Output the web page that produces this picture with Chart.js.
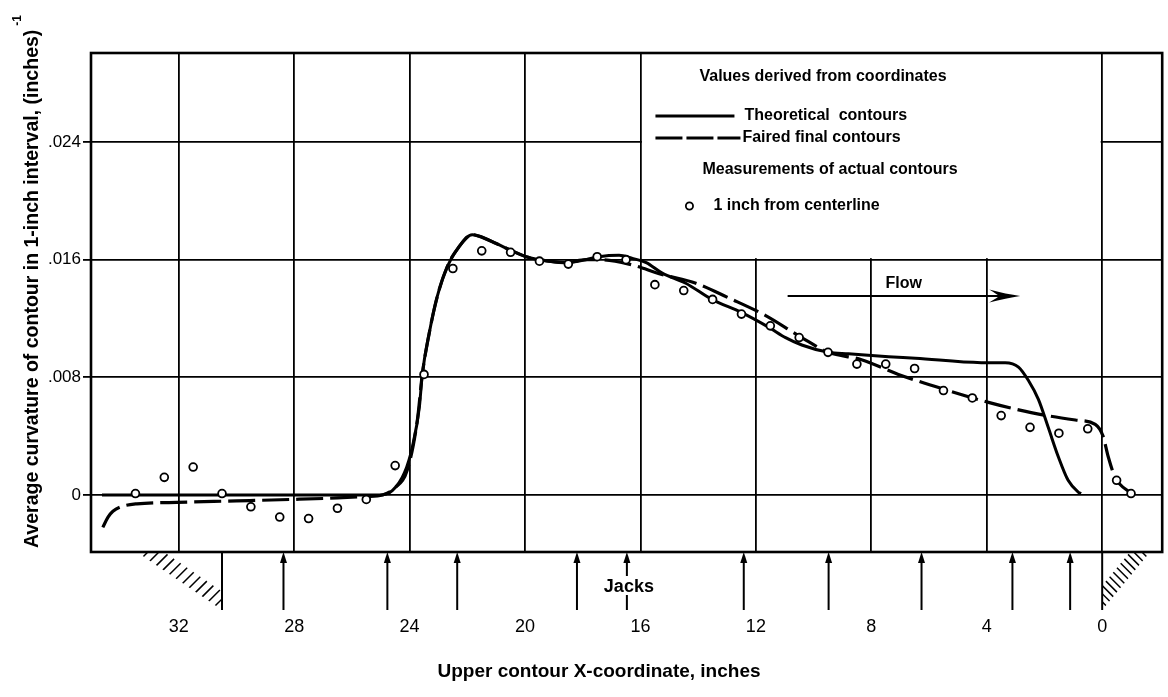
<!DOCTYPE html>
<html>
<head>
<meta charset="utf-8">
<title>Average curvature of contour</title>
<script src="https://cdn.jsdelivr.net/npm/chart.js@4.4.1/dist/chart.umd.min.js"></script>
<style>
  html, body { margin: 0; padding: 0; background: #fff; }
  canvas { display: block; }
</style>
</head>
<body>
<canvas id="curvatureChart" width="1168" height="697"></canvas>
<script>
// curvature chart - upper contour, values vs X-coordinate (axis runs right to left)

// axis ticks
const xTickValues = [32, 28, 24, 20, 16, 12, 8, 4, 0];
const xTickLabels = ['32', '28', '24', '20', '16', '12', '8', '4', '0'];
const yTickValues = [0, 0.008, 0.016, 0.024];
const yTickLabels = ['0', '.008', '.016', '.024'];

// measurements of actual contours, 1 inch from centerline
const measuredX = [33.5, 32.5, 31.5, 30.5, 29.5, 28.5, 27.5, 26.5, 25.5, 24.5, 23.5, 22.5,
  21.5, 20.5, 19.5, 18.5, 17.5, 16.5, 15.5, 14.5, 13.5, 12.5, 11.5, 10.5,
  9.5, 8.5, 7.5, 6.5, 5.5, 4.5, 3.5, 2.5, 1.5, 0.5, -0.5, -1.0];
const measuredY = [0.0001, 0.0012, 0.0019, 0.0001, -0.0008, -0.0015, -0.0016, -0.0009, -0.0003, 0.0020, 0.0082, 0.0154,
  0.0166, 0.0165, 0.0159, 0.0157, 0.0162, 0.0160, 0.0143, 0.0139, 0.0133, 0.0123, 0.0115, 0.0107,
  0.0097, 0.0089, 0.0089, 0.0086, 0.0071, 0.0066, 0.0054, 0.0046, 0.0042, 0.0045, 0.0010, 0.0001];

// theoretical contours (solid)
const theoX = [34.66, 30, 26, 25.05, 24.6, 24.18, 23.9, 23.66, 23.56, 23.32, 23.04, 22.7,
  22.28, 21.83, 21.6, 21.0, 20.45, 19.96, 19.51, 18.58, 17.89, 17.44, 16.74, 16.3,
  15.8, 15.26, 14.43, 13.53, 12.49, 11.55, 10.97, 10.41, 9.48, 8.79, 7.4, 6.47,
  4.19, 3.36, 2.9, 2.56, 2.21, 1.87, 1.52, 1.18, 0.83, 0.73];
const theoY = [0, 0, 0, 0, 0.0003, 0.0015, 0.0033, 0.0060, 0.0082, 0.0110, 0.0135, 0.0155,
  0.0169, 0.0177, 0.0176, 0.0171, 0.0166, 0.0162, 0.0160, 0.0158, 0.0160, 0.0162, 0.0163, 0.0161,
  0.0158, 0.0151, 0.0144, 0.0133, 0.0124, 0.0114, 0.0107, 0.0102, 0.0097, 0.0096, 0.0094, 0.0093,
  0.0090, 0.0090, 0.0087, 0.0078, 0.0065, 0.0046, 0.0026, 0.0010, 0.0002, 0.0001];

// faired final contours (dashed)
const fairX = [34.63, 34.45, 34.28, 34.0, 33.45, 32.07, 30.0, 28.06, 26.5, 25.5, 24.94, 24.5,
  24.08, 23.73, 23.56, 23.32, 23.04, 22.7, 22.28, 21.83, 21.6, 21.0, 20.45, 19.96,
  19.51, 18.58, 17.89, 17.44, 16.4, 15.26, 14.08, 12.94, 11.66, 10.41, 9.48, 8.34,
  7.06, 5.33, 3.94, 2.46, 0.93, 0.24, -0.03, -0.21, -0.45, -1.0];
const fairY = [-0.0022, -0.0015, -0.0011, -0.0008, -0.0006, -0.0005, -0.0004, -0.0003, -0.0002, -0.0001, 0.0000, 0.0005,
  0.0017, 0.0051, 0.0082, 0.0110, 0.0135, 0.0155, 0.0169, 0.0177, 0.0176, 0.0171, 0.0166, 0.0162,
  0.0160, 0.0158, 0.0160, 0.0160, 0.0157, 0.0150, 0.0144, 0.0134, 0.0122, 0.0107, 0.0097, 0.0092,
  0.0082, 0.0071, 0.0063, 0.0056, 0.0051, 0.0048, 0.0040, 0.0026, 0.0012, 0.0001];

// jacks under the plate, inches
const jackX = [28.37, 24.77, 22.35, 18.2, 16.47, 12.42, 9.48, 6.26, 3.11, 1.11];
const jackLabelIndex = 4;

// end walls (hatched) and how far the hatching reaches
const wallX = [30.5, 0];
const wallOuterX = [33.45, -1.66];

// flow arrow
const flowFromX = 10.9, flowToX = 2.84, flowY = 0.01353;
const flowLabelX = 6.88, flowLabelY = 0.0144;

// key block sits in the grid cell from x = 16 to 0, above .016
const keyFromX = 16, keyToX = 0, keyFromY = 0.016;

const FONT = "'Liberation Sans', Arial, sans-serif";

function toPoints(xs, ys) {
  return xs.map((x, i) => ({ x: x, y: ys[i] }));
}

function arrowUp(ctx, px, top, bottom, gapFrom, gapTo) {
  ctx.beginPath();
  if (gapFrom) {
    ctx.moveTo(px, top + 8); ctx.lineTo(px, gapFrom);
    ctx.moveTo(px, gapTo); ctx.lineTo(px, bottom);
  } else {
    ctx.moveTo(px, top + 8); ctx.lineTo(px, bottom);
  }
  ctx.stroke();
  ctx.beginPath();
  ctx.moveTo(px, top);
  ctx.lineTo(px - 3.5, top + 11);
  ctx.lineTo(px + 3.5, top + 11);
  ctx.closePath();
  ctx.fill();
}

function drawWall(ctx, xWall, xOuter, top, bottom) {
  ctx.beginPath();
  ctx.moveTo(xWall, top);
  ctx.lineTo(xWall, bottom);
  ctx.stroke();

  const dir = xOuter < xWall ? 1 : -1;
  ctx.save();
  ctx.beginPath();
  ctx.moveTo(xOuter, top);
  ctx.lineTo(xWall, top);
  ctx.lineTo(xWall, bottom);
  ctx.closePath();
  ctx.clip();
  ctx.lineWidth = 1.5;
  const n = 13;
  for (let i = 0; i <= n; i++) {
    const t = i / n;
    const hx = xOuter + (xWall - xOuter) * t;
    const hy = top + (bottom - top) * t;
    ctx.beginPath();
    ctx.moveTo(hx - dir * 2, hy + 2);
    ctx.lineTo(hx + dir * 11, hy - 11);
    ctx.stroke();
  }
  ctx.restore();
}

const decorPlugin = {
  id: 'decor',
  beforeDatasetsDraw(chart) {
    const { ctx, chartArea: a, scales: { x, y } } = chart;
    // blank the grid behind the key
    const l = x.getPixelForValue(keyFromX), r = x.getPixelForValue(keyToX);
    const b = y.getPixelForValue(keyFromY);
    ctx.save();
    ctx.fillStyle = '#fff';
    ctx.fillRect(l + 1.5, a.top, r - l - 3, b - a.top - 1.5);
    ctx.restore();
  },
  afterDatasetsDraw(chart) {
    const { ctx, chartArea: a } = chart;
    ctx.save();
    ctx.strokeStyle = '#000';
    ctx.lineWidth = 2.6;
    ctx.strokeRect(a.left, a.top, a.right - a.left, a.bottom - a.top);
    ctx.restore();
  },
  afterDraw(chart) {
    const { ctx, chartArea: a, scales: { x, y } } = chart;
    ctx.save();
    ctx.fillStyle = '#000';
    ctx.strokeStyle = '#000';

    // key
    const kl = x.getPixelForValue(keyFromX), kt = a.top;
    ctx.font = `bold 16px ${FONT}`;
    ctx.textAlign = 'left';
    ctx.textBaseline = 'middle';
    ctx.fillText('Values derived from coordinates', kl + 59, kt + 24);
    ctx.lineWidth = 3;
    ctx.beginPath();
    ctx.moveTo(kl + 15, kt + 63); ctx.lineTo(kl + 94, kt + 63);
    ctx.stroke();
    ctx.fillText('Theoretical  contours', kl + 104, kt + 63);
    ctx.setLineDash([27, 4]);
    ctx.beginPath();
    ctx.moveTo(kl + 15, kt + 85); ctx.lineTo(kl + 100, kt + 85);
    ctx.stroke();
    ctx.setLineDash([]);
    ctx.fillText('Faired final contours', kl + 102, kt + 85);
    ctx.fillText('Measurements of actual contours', kl + 62, kt + 117);
    ctx.lineWidth = 1.8;
    ctx.beginPath();
    ctx.arc(kl + 49, kt + 153, 3.6, 0, Math.PI * 2);
    ctx.stroke();
    ctx.fillText('1 inch from centerline', kl + 73, kt + 153);

    // flow arrow
    const fx0 = x.getPixelForValue(flowFromX), fx1 = x.getPixelForValue(flowToX);
    const fy = y.getPixelForValue(flowY);
    ctx.lineWidth = 1.8;
    ctx.beginPath();
    ctx.moveTo(fx0, fy); ctx.lineTo(fx1 - 10, fy);
    ctx.stroke();
    ctx.beginPath();
    ctx.moveTo(fx1, fy);
    ctx.quadraticCurveTo(fx1 - 14, fy - 2, fx1 - 31, fy - 6.5);
    ctx.quadraticCurveTo(fx1 - 22, fy - 1, fx1 - 21, fy);
    ctx.quadraticCurveTo(fx1 - 22, fy + 1, fx1 - 31, fy + 6.5);
    ctx.quadraticCurveTo(fx1 - 14, fy + 2, fx1, fy);
    ctx.fill();
    ctx.font = `bold 16px ${FONT}`;
    ctx.textAlign = 'center';
    ctx.fillText('Flow', x.getPixelForValue(flowLabelX), y.getPixelForValue(flowLabelY));

    // jacks
    const top = a.bottom, bottom = a.bottom + 58;
    ctx.lineWidth = 2;
    jackX.forEach((jx, i) => {
      const px = x.getPixelForValue(jx);
      if (i === jackLabelIndex) {
        arrowUp(ctx, px, top, bottom, top + 24, top + 43);
        ctx.font = `bold 18px ${FONT}`;
        ctx.textAlign = 'center';
        ctx.fillText('Jacks', px + 2, top + 35);
      } else {
        arrowUp(ctx, px, top, bottom);
      }
    });

    // walls
    ctx.lineWidth = 2;
    wallX.forEach((wx, i) => {
      drawWall(ctx, x.getPixelForValue(wx), x.getPixelForValue(wallOuterX[i]), top, bottom);
    });

    // x axis title
    ctx.font = `bold 19px ${FONT}`;
    ctx.textAlign = 'center';
    ctx.textBaseline = 'middle';
    ctx.fillText('Upper contour X-coordinate, inches', 599, 672);

    // y axis title with superscript
    const yTitle = 'Average curvature of contour in 1-inch interval, (inches)';
    ctx.translate(33, 548);
    ctx.rotate(-Math.PI / 2);
    ctx.font = `bold 19.5px ${FONT}`;
    ctx.textAlign = 'left';
    ctx.fillText(yTitle, 0, 0);
    const w = ctx.measureText(yTitle).width;
    ctx.font = `bold 12px ${FONT}`;
    ctx.fillText('-1', w + 4, -15);
    ctx.restore();
  }
};

new Chart(document.getElementById('curvatureChart'), {
  type: 'line',
  data: {
    datasets: [
      {
        label: '1 inch from centerline',
        data: toPoints(measuredX, measuredY),
        showLine: false,
        pointRadius: 3.9,
        pointBorderWidth: 1.8,
        pointBackgroundColor: '#fff',
        pointBorderColor: '#000'
      },
      {
        label: 'Theoretical contours',
        data: toPoints(theoX, theoY),
        borderColor: '#000',
        borderWidth: 3,
        pointRadius: 0,
        cubicInterpolationMode: 'monotone'
      },
      {
        label: 'Faired final contours',
        data: toPoints(fairX, fairY),
        borderColor: '#000',
        borderWidth: 3.2,
        borderDash: [27, 7],
        pointRadius: 0,
        cubicInterpolationMode: 'monotone'
      }
    ]
  },
  options: {
    responsive: false,
    animation: false,
    layout: { padding: { left: 0, top: 53, right: 4, bottom: 0 } },
    plugins: {
      legend: { display: false },
      tooltip: { enabled: false }
    },
    scales: {
      x: {
        type: 'linear',
        reverse: true,
        bounds: 'data',
        min: -2.08,
        max: 35.04,
        afterBuildTicks: s => { s.ticks = xTickValues.map(v => ({ value: v })); },
        afterFit: s => { s.height = 145; s.paddingLeft = 0; s.paddingRight = 0; },
        // long invisible tick marks push the labels below the jacks
        grid: { color: '#000', lineWidth: 1.8, drawTicks: true, tickLength: 64, tickColor: 'rgba(0,0,0,0)' },
        border: { display: false },
        ticks: {
          padding: 0,
          color: '#000',
          autoSkip: false,
          maxRotation: 0,
          font: { family: FONT, size: 18 },
          callback: (v, i) => xTickLabels[i]
        }
      },
      y: {
        type: 'linear',
        bounds: 'data',
        min: -0.003875,
        max: 0.030051,
        afterBuildTicks: s => { s.ticks = yTickValues.map(v => ({ value: v })); },
        afterFit: s => { s.width = 91; s.paddingTop = 0; s.paddingBottom = 0; },
        grid: { color: '#000', lineWidth: 1.8, drawTicks: true, tickLength: 8 },
        border: { display: false },
        ticks: {
          padding: 2,
          color: '#000',
          font: { family: FONT, size: 17 },
          callback: (v, i) => yTickLabels[i]
        }
      }
    }
  },
  plugins: [decorPlugin]
});
</script>
</body>
</html>
